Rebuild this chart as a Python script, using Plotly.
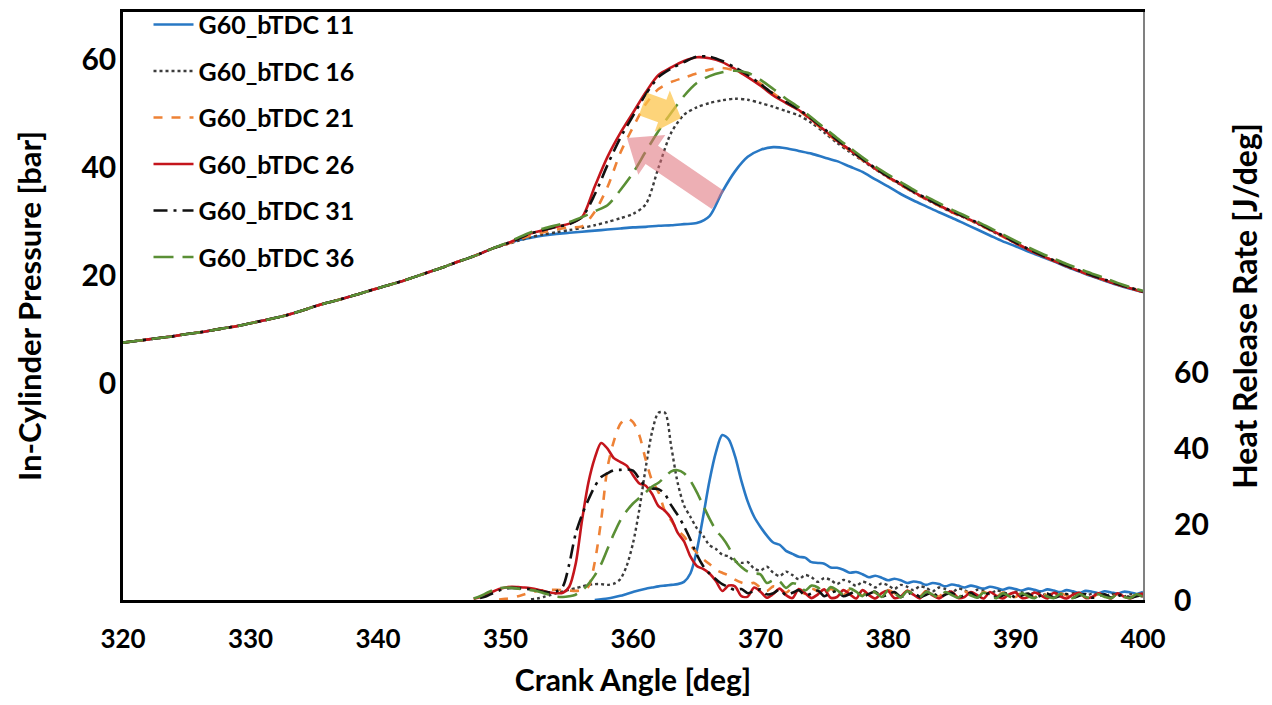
import plotly.graph_objects as go

# ---------------- data ----------------
series_names = ["G60_bTDC 11", "G60_bTDC 16", "G60_bTDC 21",
                "G60_bTDC 26", "G60_bTDC 31", "G60_bTDC 36"]

# crank angle for pressure (1 deg steps, 320..400)
ca_pressure = list(range(320, 401))

# common compression (motoring) part 320..349, bar
p_compression = [7.5, 7.8, 8.1, 8.4, 8.7, 9.1, 9.4, 9.8, 10.2, 10.6,
                 11.1, 11.6, 12.1, 12.7, 13.4, 14.2, 14.9, 15.5, 16.2, 16.9,
                 17.6, 18.3, 19.0, 19.8, 20.6, 21.4, 22.3, 23.1, 24.0, 25.0]

# pressure 350..400, bar
p_btdc11 = [25.8, 26.5, 27.0, 27.4, 27.7, 27.9, 28.1, 28.3, 28.5, 28.7,
            28.9, 29.0, 29.2, 29.3, 29.5, 29.7, 31.0, 35.5, 39.3, 42.0,
            43.3, 43.8, 43.6, 43.1, 42.6, 41.9, 41.2, 40.2, 39.2, 37.8,
            36.5, 35.1, 33.9, 32.8, 31.7, 30.7, 29.6, 28.5, 27.4, 26.3,
            25.4, 24.4, 23.5, 22.6, 21.6, 20.7, 19.8, 19.0, 18.2, 17.5,
            16.9]
p_btdc16 = [25.7, 26.4, 27.1, 27.6, 28.0, 28.4, 28.8, 29.3, 29.9, 30.6,
            31.4, 33.2, 40.0, 46.5, 49.8, 51.2, 52.0, 52.5, 52.8, 52.6,
            52.0, 51.3, 50.5, 49.7, 48.3, 46.5, 44.6, 42.9, 41.3, 39.7,
            38.2, 36.8, 35.4, 34.1, 32.9, 31.7, 30.7, 29.6, 28.4, 27.2,
            26.0, 24.8, 23.7, 22.7, 21.7, 20.8, 19.9, 19.1, 18.3, 17.6,
            16.9]
p_btdc21 = [25.7, 26.6, 27.4, 28.0, 28.5, 28.9, 29.1, 31.8, 36.4, 42.7,
            47.5, 51.8, 54.6, 55.9, 56.7, 57.5, 58.2, 58.5, 58.0, 57.0,
            55.6, 53.8, 52.1, 50.6, 48.8, 46.8, 44.9, 43.2, 41.4, 39.8,
            38.2, 36.8, 35.4, 34.1, 32.9, 31.7, 30.7, 29.6, 28.4, 27.2,
            26.0, 24.8, 23.7, 22.7, 21.7, 20.8, 19.9, 19.1, 18.3, 17.6,
            16.9]
p_btdc26 = [25.8, 26.8, 27.8, 28.4, 29.0, 29.6, 30.8, 36.5, 42.0, 46.4,
            50.2, 54.0, 57.2, 58.6, 59.8, 60.5, 60.3, 59.6, 58.3, 56.8,
            55.2, 53.4, 52.0, 50.7, 48.9, 47.0, 45.0, 43.3, 41.5, 39.8,
            38.3, 36.9, 35.5, 34.2, 33.0, 31.8, 30.8, 29.7, 28.5, 27.3,
            26.0, 24.8, 23.7, 22.7, 21.7, 20.8, 19.9, 19.1, 18.3, 17.6,
            16.9]
p_btdc31 = [25.8, 26.8, 27.8, 28.4, 29.0, 29.5, 30.8, 35.0, 40.5, 45.5,
            49.6, 53.6, 56.8, 58.4, 59.6, 60.6, 60.6, 59.8, 58.6, 57.2,
            55.5, 53.7, 52.2, 50.8, 49.1, 47.2, 45.2, 43.4, 41.6, 39.9,
            38.4, 37.0, 35.6, 34.3, 33.1, 31.9, 30.9, 29.8, 28.6, 27.4,
            26.1, 24.9, 23.8, 22.8, 21.8, 20.9, 20.0, 19.2, 18.4, 17.7,
            17.0]
p_btdc36 = [25.9, 27.0, 28.0, 28.7, 29.3, 29.9, 30.8, 31.9, 33.0, 35.8,
            39.0, 43.0, 46.8, 50.2, 53.3, 55.7, 57.0, 57.7, 58.0, 57.6,
            56.3, 54.6, 52.8, 51.2, 49.3, 47.4, 45.5, 43.7, 41.9, 40.2,
            38.7, 37.3, 35.9, 34.6, 33.4, 32.2, 31.1, 30.0, 28.8, 27.6,
            26.4, 25.2, 24.1, 23.1, 22.1, 21.2, 20.3, 19.5, 18.6, 17.8,
            17.1]

# crank angle for heat release rate (0.5 deg steps, 346..400)
ca_hrr = [346 + 0.5 * i for i in range(109)]

N = None
hrr_btdc11 = [N, N, N, N, N, N, N, N, N, N, N, N, N, N, N, N, N, N, N, N, N, N,
              0.0, 0.2, 0.4, 0.7, 1.1, 1.6, 2.1, 2.6, 3.0, 3.3, 3.6, 3.8, 4.0, 4.2,
              4.8, 7.0, 13.0, 22.0, 31.5, 39.0, 43.6, 42.5, 38.0, 31.5, 26.0, 22.0,
              19.3, 17.0, 15.2, 14.6, 13.0, 12.2, 11.4, 11.2, 10.0, 9.8, 9.6, 8.6,
              8.5, 8.0, 7.2, 7.4, 6.8, 6.0, 6.4, 5.9, 5.2, 5.6, 5.2, 4.5, 4.9, 4.6,
              4.0, 4.5, 4.2, 3.6, 4.1, 3.8, 3.3, 3.8, 3.4, 3.0, 3.5, 3.2, 2.7, 3.2,
              2.9, 2.5, 3.0, 2.7, 2.3, 2.8, 2.5, 2.1, 2.6, 2.3, 1.9, 2.4, 2.2, 1.8,
              2.3, 2.0, 1.7, 2.2, 2.0, 1.6, 2.1]
hrr_btdc16 = [N, N, N, N, N, N, N, N, N, N, N, N,
              0.2, 0.4, 0.8, 1.3, 1.8, 2.3, 2.7, 3.1, 3.6, 4.0, 4.2, 4.2,
              4.0, 4.3, 5.5, 9.0, 15.0, 24.0, 35.0, 44.5, 49.5, 49.5, 40.5, 31.0,
              25.0, 22.0, 19.0, 17.0, 14.5, 13.5, 12.0, 11.5, 10.2, 9.8, 10.0, 8.3,
              7.8, 8.8, 7.2, 6.3, 7.5, 6.6, 5.5, 6.6, 6.0, 4.8, 5.8, 5.3,
              4.2, 5.3, 4.8, 3.7, 4.8, 4.3, 3.3, 4.4, 3.9, 2.9, 4.0, 3.5,
              2.6, 3.6, 3.2, 2.3, 3.3, 2.9, 2.0, 3.0, 2.6, 1.8, 2.7, 2.4,
              1.6, 2.5, 2.1, 1.5, 2.2, 2.0, 1.3, 2.0, 1.8, 1.2, 1.9, 1.7,
              1.1, 1.8, 1.6, 1.0, 1.7, 1.5, 1.0, 1.6, 1.4, 0.9, 1.5, 1.3,
              0.9]
hrr_btdc21 = [N, N, N, N, N, N, N, 0.1,
              0.3, 0.6, 1.0, 1.5, 2.0, 2.4, 2.6, 2.7, 2.7, 2.6, 2.5, 2.4, 2.6,
              3.5, 10.0, 21.0, 35.0, 42.0, 46.5, 48.0, 47.0, 43.5, 37.0,
              31.5, 28.5, 23.5, 21.0, 18.5, 16.8, 14.5, 12.5, 10.8, 9.5,
              8.0, 7.2, 6.5, 5.4, 4.6, 4.2, 4.5, 3.2, 2.4, 3.6,
              3.0, 1.9, 3.2, 2.6, 1.6, 3.0, 2.3, 1.4, 2.9, 2.1,
              1.3, 2.8, 2.0, 1.2, 2.7, 1.9, 1.1, 2.6, 1.8, 1.0,
              2.5, 1.7, 1.0, 2.4, 1.6, 0.9, 2.3, 1.5, 0.9, 2.2,
              1.5, 0.8, 2.1, 1.4, 0.8, 2.0, 1.3, 0.8, 2.0, 1.3,
              0.7, 1.9, 1.2, 0.7, 1.8, 1.2, 0.7, 1.7, 1.1, 0.6,
              1.7, 1.1, 0.6, 1.6, 1.0, 0.6, 1.6, 1.0, 0.6]
hrr_btdc26 = [N, N, N, 0.3,
              0.7, 1.4, 2.2, 2.9, 3.3, 3.5, 3.4, 3.3, 3.1, 2.8,
              2.4, 2.0, 1.8, 1.9, 3.5, 9.5, 21.0, 31.0, 37.5, 41.5,
              40.0, 37.5, 36.5, 35.5, 33.0, 30.8, 30.2, 28.0, 24.8, 23.6,
              21.5, 17.8, 15.5, 11.5, 9.0, 8.2, 7.0, 5.0, 2.4, 3.8,
              3.6, 1.0, 0.9, 3.3, 2.2, 0.6, 1.6, 3.0, 1.3, 0.5,
              2.9, 1.8, 0.5, 1.5, 2.8, 0.6, 0.8, 2.6, 1.5, 0.4,
              2.6, 1.3, 0.4, 1.8, 2.4, 0.5, 0.9, 2.4, 1.4, 0.4,
              2.3, 1.2, 0.4, 1.6, 2.2, 0.5, 0.8, 2.1, 1.3, 0.4,
              2.1, 1.1, 0.4, 1.5, 2.0, 0.5, 0.8, 2.0, 1.2, 0.4,
              1.9, 1.0, 0.4, 1.4, 1.9, 0.5, 0.8, 1.8, 1.1, 0.4,
              1.8, 0.9, 0.4, 1.3, 1.7]
hrr_btdc31 = [N, N, N, N,
              0.5, 1.0, 1.8, 2.5, 3.0, 3.2, 3.1, 3.0, 2.8, 2.5,
              2.2, 2.0, 2.3, 3.6, 9.5, 17.5, 22.5, 26.5, 30.0, 32.5,
              33.5, 34.3, 34.4, 34.5, 34.2, 32.0, 30.0, 29.5, 29.3, 28.0,
              25.0, 22.5, 19.5, 16.0, 12.0, 9.0, 7.0, 5.5, 4.2, 3.4,
              2.6, 2.9, 1.8, 2.4, 2.8, 1.5, 1.8, 2.7, 1.3, 1.9,
              2.6, 1.2, 1.7, 2.5, 1.0, 1.8, 2.4, 1.0, 1.6, 2.3,
              0.9, 1.6, 2.2, 0.9, 1.5, 2.1, 0.8, 1.5, 2.0, 0.8,
              1.4, 2.0, 0.7, 1.4, 1.9, 0.7, 1.3, 1.9, 0.7, 1.3,
              1.8, 0.7, 1.2, 1.8, 0.6, 1.2, 1.7, 0.6, 1.2, 1.7,
              0.6, 1.1, 1.6, 0.6, 1.1, 1.6, 0.6, 1.1, 1.5, 0.6,
              1.0, 1.5, 0.6, 1.0, 1.4]
hrr_btdc36 = [N, N, N, 0.4,
              1.0, 1.8, 2.6, 3.1, 3.3, 3.2, 3.0, 2.8, 2.6, 2.3,
              1.8, 1.3, 0.9, 0.8, 1.0, 1.4, 2.5, 4.2, 6.5, 9.5,
              13.5, 17.5, 21.0, 23.5, 25.5, 27.0, 28.5, 30.0, 31.0, 32.5,
              34.0, 34.3, 33.5, 31.5, 28.5, 25.0, 21.5, 18.5, 16.5, 14.0,
              10.5, 8.7, 7.5, 7.0, 6.8, 4.5, 5.2, 4.9, 3.2, 4.4,
              4.0, 2.5, 3.8, 3.3, 1.8, 3.4, 2.6, 1.4, 3.0, 2.2,
              1.0, 2.7, 2.0, 0.8, 2.5, 1.8, 0.7, 2.3, 1.6, 0.7,
              2.2, 1.4, 0.6, 2.1, 1.3, 0.6, 2.0, 1.2, 0.6, 1.9,
              1.1, 0.5, 1.8, 1.0, 0.5, 1.8, 1.0, 0.5, 1.7, 0.9,
              0.5, 1.6, 0.9, 0.5, 1.6, 0.8, 0.5, 1.5, 0.8, 0.5,
              1.5, 0.8, 0.5, 1.5, 0.8]

pressure_series = [p_btdc11, p_btdc16, p_btdc21, p_btdc26, p_btdc31, p_btdc36]
hrr_series = [hrr_btdc11, hrr_btdc16, hrr_btdc21, hrr_btdc26, hrr_btdc31, hrr_btdc36]

pressure_ticks = [0, 20, 40, 60]
hrr_ticks = [0, 20, 40, 60]
ca_ticks = [320, 330, 340, 350, 360, 370, 380, 390, 400]

# ---------------- styles ----------------
colors = ["#2878C4", "#3C3C3C", "#EE8236", "#C4151C", "#111111", "#5A8F35"]
dashes = ["solid", "dot", "dash", "solid", "14px,6px,3px,6px", "20px,9px"]
widths = [2.6, 2.4, 2.6, 2.6, 2.6, 2.6]

FONT = "Lato"

fig = go.Figure()
for i, name in enumerate(series_names):
    fig.add_trace(go.Scatter(
        x=ca_pressure, y=p_compression + pressure_series[i], name=name,
        mode="lines", legendgroup=name, showlegend=True,
        line=dict(color=colors[i], dash=dashes[i], width=widths[i], shape="spline", smoothing=0.8),
        yaxis="y"))
for i, name in enumerate(series_names):
    fig.add_trace(go.Scatter(
        x=ca_hrr, y=hrr_series[i], name=name,
        mode="lines", legendgroup=name, showlegend=False,
        line=dict(color=colors[i], dash=dashes[i], width=widths[i], shape="spline", smoothing=0.8),
        yaxis="y2"))

# ---------------- arrows (annotation graphics) ----------------
# page has an 8px body margin, so the figure is drawn at (8, 8)
OFF = 8
FIG_W, FIG_H = 1272 - 2 * OFF, 705 - 2 * OFF
X_RANGE = [320, 400]
Y_RANGE = [-40.3, 68.9]
PX_L, PX_R, PX_T, PX_B = 123, 1143, 12, 600   # plot area in page pixels


def to_data(px, py):
    x = X_RANGE[0] + (px - PX_L) * (X_RANGE[1] - X_RANGE[0]) / (PX_R - PX_L)
    y = Y_RANGE[1] - (py - PX_T) * (Y_RANGE[1] - Y_RANGE[0]) / (PX_B - PX_T)
    return x, y


def arrow_path(tail, tip, shaft_w, head_w, head_len):
    dx, dy = tip[0] - tail[0], tip[1] - tail[1]
    ln = (dx * dx + dy * dy) ** 0.5
    ux, uy = dx / ln, dy / ln
    nx, ny = -uy, ux
    hx, hy = tip[0] - ux * head_len, tip[1] - uy * head_len
    s, h = shaft_w / 2, head_w / 2
    pts = [(tail[0] + nx * s, tail[1] + ny * s),
           (hx + nx * s, hy + ny * s),
           (hx + nx * h, hy + ny * h),
           tip,
           (hx - nx * h, hy - ny * h),
           (hx - nx * s, hy - ny * s),
           (tail[0] - nx * s, tail[1] - ny * s)]
    d = [to_data(*p) for p in pts]
    return "M " + " L ".join(f"{x:.4f},{y:.4f}" for x, y in d) + " Z"


shapes = [
    dict(type="path", xref="x", yref="y", layer="above",
         path=arrow_path((718, 200), (627, 138), 22, 48, 30),
         fillcolor="rgba(222,110,118,0.55)", line=dict(width=0)),
    dict(type="path", xref="x", yref="y", layer="above",
         path=arrow_path((643, 104), (681, 118), 24, 44, 20),
         fillcolor="rgba(252,196,70,0.72)", line=dict(width=0)),
]

fig.update_layout(
    width=FIG_W, height=FIG_H,
    margin=dict(l=PX_L - OFF, r=FIG_W - (PX_R - OFF), t=PX_T - OFF, b=FIG_H - (PX_B - OFF),
                autoexpand=False),
    paper_bgcolor="white", plot_bgcolor="white",
    font=dict(family=FONT, size=24, color="#000000", weight=700),
    shapes=shapes,
    showlegend=True,
    legend=dict(x=0.025, y=1.0175, xanchor="left", yanchor="top",
                bgcolor="rgba(0,0,0,0)", borderwidth=0,
                tracegroupgap=11, itemwidth=40,
                font=dict(family=FONT, size=25, color="#000000", weight=700)),
    xaxis=dict(range=X_RANGE, tickvals=ca_ticks, showgrid=False, zeroline=False,
               showline=True, linecolor="#000000", linewidth=2.5, mirror=True,
               ticks="", ticklabelstandoff=14, automargin=False,
               tickfont=dict(family=FONT, size=26, weight=700),
               title=dict(text="Crank Angle [deg]", standoff=30,
                          font=dict(family=FONT, size=30, weight=700))),
    yaxis=dict(range=Y_RANGE, tickvals=pressure_ticks, showgrid=False, zeroline=False,
               showline=True, linecolor="#000000", linewidth=2.5,
               ticks="", ticklabelstandoff=-2, automargin=False,
               tickfont=dict(family=FONT, size=30, weight=700),
               title=dict(text="In-Cylinder Pressure [bar]", standoff=31,
                          font=dict(family=FONT, size=31, weight=700))),
    yaxis2=dict(range=[0, 155.4], tickvals=hrr_ticks, overlaying="y", side="right",
                showgrid=False, zeroline=False,
                showline=True, linecolor="#808080", linewidth=2,
                ticks="", ticklabelstandoff=23, automargin=False,
                tickfont=dict(family=FONT, size=30, weight=700),
                title=dict(text="Heat Release Rate [J/deg]", standoff=29,
                           font=dict(family=FONT, size=32, weight=700))),
)

fig.write_html("out.html")
